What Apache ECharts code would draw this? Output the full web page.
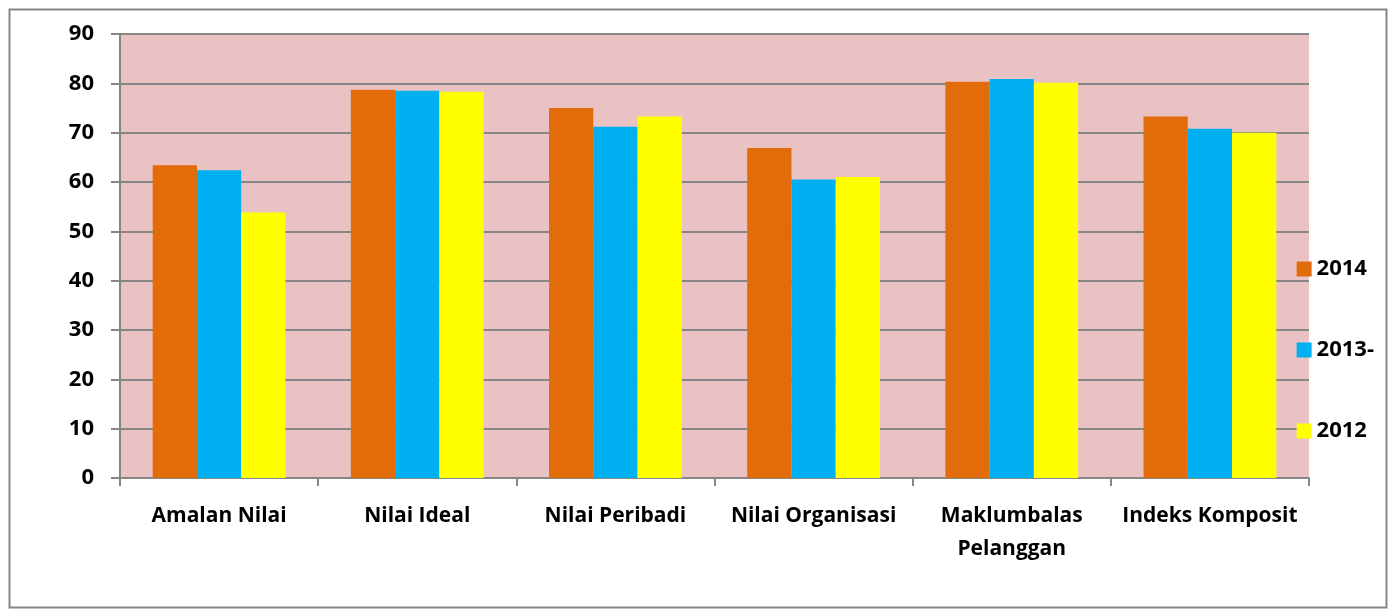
<!DOCTYPE html>
<html>
<head>
<meta charset="utf-8">
<script src="https://cdn.jsdelivr.net/npm/echarts@6/dist/echarts.min.js"></script>
<style>
html, body { margin: 0; padding: 0; background: #fff; }
#chart { width: 1389px; height: 609px; }
</style>
</head>
<body>
<div id="chart"></div>
<script>
var categories = ['Amalan Nilai', 'Nilai Ideal', 'Nilai Peribadi', 'Nilai Organisasi', 'Maklumbalas\nPelanggan', 'Indeks Komposit'];
var seriesNames = ['2014', '2013-', '2012'];
var values2014 = [63.4, 78.7, 75.0, 66.9, 80.3, 73.3];
var values2013 = [62.4, 78.5, 71.2, 60.5, 80.9, 70.8];
var values2012 = [53.8, 78.3, 73.3, 61.0, 80.1, 70.0];
var colors = ['#E36C0A', '#00B0F0', '#FFFF00'];

var myChart = echarts.init(document.getElementById('chart'));
var font = '"Open Sans", sans-serif';

function barSeries(name, data) {
    return {
        name: name,
        type: 'bar',
        barGap: '0%',
        barCategoryGap: '33%',
        data: data
    };
}

option = {
    color: colors,
    textStyle: { fontFamily: font },
    graphic: [{
        type: 'rect',
        left: 7, top: 7,
        shape: { width: 1377, height: 598 },
        style: { fill: 'none', stroke: '#868686', lineWidth: 2 },
        silent: true
    }],
    grid: {
        left: 120,
        right: 80,
        top: 34,
        bottom: 131,
        show: true,
        backgroundColor: '#ebc2c3',
        borderWidth: 0
    },
    legend: {
        orient: 'vertical',
        right: 10,
        top: 253,
        itemWidth: 15,
        itemHeight: 15,
        itemGap: 59,
        icon: 'rect',
        textStyle: { fontSize: 22, fontWeight: 'bold', color: '#000', fontFamily: font },
        data: seriesNames
    },
    xAxis: [{
        type: 'category',
        data: categories,
        axisLine: { lineStyle: { color: '#868686', width: 2 } },
        axisTick: { show: true, length: 8, lineStyle: { color: '#868686', width: 2 } },
        axisLabel: { margin: 22, fontSize: 21, fontWeight: 'bold', color: '#000', lineHeight: 33, interval: 0 }
    }],
    yAxis: [{
        type: 'value',
        min: 0,
        max: 90,
        interval: 10,
        axisLine: { show: true, lineStyle: { color: '#868686', width: 2 } },
        axisTick: { show: true, length: 9, lineStyle: { color: '#868686', width: 2 } },
        splitLine: { lineStyle: { color: '#868686', width: 2 } },
        axisLabel: { margin: 26, fontSize: 22, fontWeight: 'bold', color: '#000' }
    }],
    series: [
        barSeries(seriesNames[0], values2014),
        barSeries(seriesNames[1], values2013),
        barSeries(seriesNames[2], values2012)
    ]
};

myChart.setOption(option);

window.onresize = function() {
    myChart.resize();
}
</script>
</body>
</html>
